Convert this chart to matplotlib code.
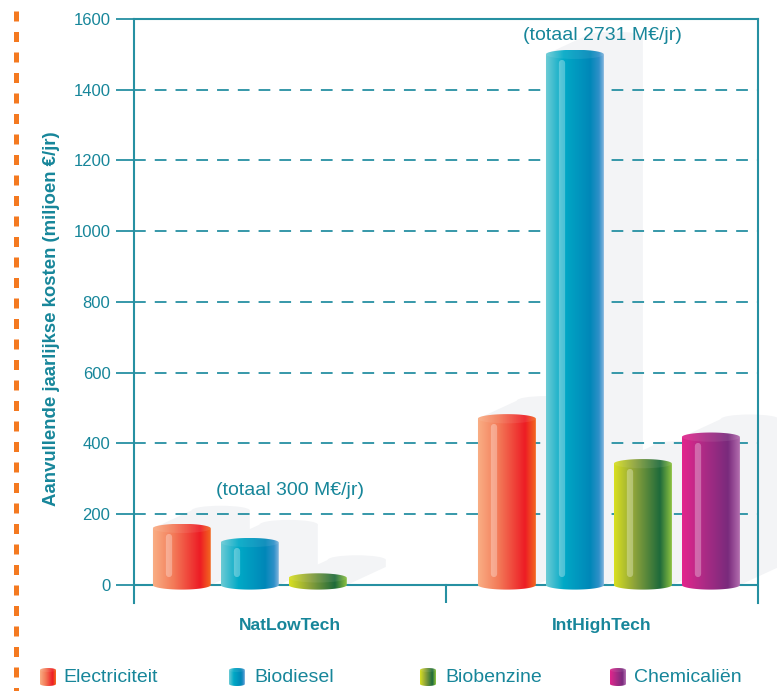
import numpy as np
import matplotlib.pyplot as plt
from matplotlib.colors import LinearSegmentedColormap
from matplotlib.patches import Ellipse, PathPatch, Polygon
from matplotlib.path import Path

categories = ['NatLowTech', 'IntHighTech']
series = ['Electriciteit', 'Biodiesel', 'Biobenzine', 'Chemicaliën']
electriciteit = [160, 470]
biodiesel = [120, 1500]
biobenzine = [20, 343]
chemicalien = [0, 418]
totals = [300, 2731]
yticks = [0, 200, 400, 600, 800, 1000, 1200, 1400, 1600]

values = [electriciteit, biodiesel, biobenzine, chemicalien]

TEAL = '#17869A'
LINE = '#2690A2'
SHADOW = '#F3F4F6'
ORANGE = '#F47920'

# colour stops across each cylinder, left to right
gradients = [
    [(0.0, '#F9AE84'), (0.35, '#F37A58'), (0.8, '#ED1C24'), (1.0, '#F3701F')],
    [(0.0, '#6DCBD5'), (0.3, '#00A9C6'), (0.75, '#0087B8'), (0.9, '#2F90C8'), (1.0, '#93BCE2')],
    [(0.0, '#D9E021'), (0.35, '#8CA23A'), (0.78, '#1E6A3B'), (1.0, '#96C940')],
    [(0.0, '#E3248C'), (0.35, '#B02B86'), (0.78, '#792A7C'), (1.0, '#B874B3')],
]

plt.rcParams['font.family'] = ['Liberation Sans', 'DejaVu Sans']


def cylinder(ax, xc, w, y0, y1, eh, stops, z=3):
    """Gradient filled cylinder from y0 to y1 with elliptical ends."""
    xl, xr = xc - w / 2, xc + w / 2
    t = np.linspace(np.pi, 2 * np.pi, 60)
    bottom = np.column_stack([xc + w / 2 * np.cos(t), y0 + eh * np.sin(t)])
    t2 = np.linspace(0, np.pi, 60)
    top = np.column_stack([xc + w / 2 * np.cos(t2), y1 + eh * np.sin(t2)])
    verts = np.vstack([bottom, top, bottom[:1]])
    patch = PathPatch(Path(verts, closed=True), transform=ax.transData,
                      fc='none', ec='none')
    ax.add_patch(patch)
    cmap = LinearSegmentedColormap.from_list('cyl', stops)
    grad = cmap(np.linspace(0, 1, 256))[None, :, :]
    im = ax.imshow(grad, extent=(xl, xr, y0 - eh, y1 + eh), aspect='auto',
                   interpolation='bilinear', zorder=z)
    im.set_clip_path(patch)
    # top face slightly lighter
    ax.add_patch(Ellipse((xc, y1), w, 2 * eh, fc='white', ec='none',
                         alpha=0.08, zorder=z + 0.1))


fig = plt.figure(figsize=(7.77, 6.91), dpi=100)

# full-figure layer in pixel units for the side rule and the legend
bg = fig.add_axes([0, 0, 1, 1], zorder=-1)
bg.set_xlim(0, 777)
bg.set_ylim(0, 691)
bg.axis('off')

ax = fig.add_axes([134 / 777, 1 - 603 / 691, 624 / 777, 584 / 691])
ymin = -50.9
ax.set_xlim(-0.5, 1.5)
ax.set_ylim(ymin, 1600)

bar_w = 0.186
spacing = 0.218
group_shift = [-0.02, 0.022]
eh = 13          # half height of the ellipses, data units
sh_dx, sh_dy = 0.125, 51

for ci in range(len(categories)):
    for si, vals in enumerate(values):
        v = vals[ci]
        if v <= 0:
            continue
        xc = ci + group_shift[ci] + (si - 1.5) * spacing
        xl, xr = xc - bar_w / 2, xc + bar_w / 2
        # faint cast shadow behind the bar
        shadow = Polygon([(xl, 0), (xr, 0), (xr + sh_dx, sh_dy),
                          (xr + sh_dx, v + sh_dy), (xl + sh_dx, v + sh_dy),
                          (xl, v)], closed=True, fc=SHADOW, ec='none',
                         zorder=1, clip_on=False)
        ax.add_patch(shadow)
        ax.add_patch(Ellipse((xc + sh_dx, v + sh_dy), bar_w, 2 * eh,
                             fc=SHADOW, ec='none', zorder=1, clip_on=False))

        cylinder(ax, xc, bar_w, 0, v, eh, gradients[si])

        # glossy highlight stripe
        xs = xl + 0.28 * bar_w
        top_s, bot_s = v - 24, 32
        if top_s <= bot_s:
            top_s, bot_s = v * 0.55 + 1, v * 0.55 - 1
        ax.plot([xs, xs], [bot_s, top_s], color='white', alpha=0.3, lw=4.5,
                solid_capstyle='round', zorder=3.5)

# dashed grid
for y in yticks[1:-1]:
    ax.axhline(y, color=LINE, lw=1.3, linestyle=(0, (6.5, 5)), zorder=2)
ax.axhline(0, color=LINE, lw=1.5, zorder=2.5)
ax.plot([0.5, 0.5], [ymin, 0], color=LINE, lw=1.5, zorder=2.5)

for side in ['left', 'right', 'top']:
    ax.spines[side].set_color(LINE)
    ax.spines[side].set_linewidth(1.5)
ax.spines['bottom'].set_visible(False)

ax.set_yticks(yticks)
ax.set_yticklabels([str(y) for y in yticks])
ax.tick_params(axis='y', length=13, width=1.3, color=LINE, labelsize=12,
               labelcolor=TEAL, pad=4)
ax.set_xticks(range(len(categories)))
ax.set_xticklabels(categories, fontweight='bold')
ax.tick_params(axis='x', length=0, labelsize=12.5, labelcolor=TEAL, pad=11)

ax.set_ylabel('Aanvullende jaarlijkse kosten (miljoen €/jr)',
              fontweight='bold', fontsize=13.4, color=TEAL)
ax.yaxis.set_label_coords(-0.118, 0.486)

total_y = [268, 1552]
for ci, tot in enumerate(totals):
    ax.text(ci, total_y[ci], f'(totaal {tot} M€/jr)', ha='center', va='center',
            fontsize=14, color=TEAL, zorder=6)

# orange dashed rule at the left edge
bg.plot([16, 16], [680, -10], color=ORANGE, lw=3.6, linestyle=(0, (2, 2.1)),
        solid_capstyle='butt', dash_capstyle='butt')

# legend
icon_x = [48, 237, 428, 618]
text_x = [63, 254, 445, 634]
for si, name in enumerate(series):
    cylinder(bg, icon_x[si], 16, 7, 21, 2, gradients[si])
    bg.plot([icon_x[si] - 3.5] * 2, [9, 19], color='white', alpha=0.3,
            lw=2.2, solid_capstyle='round')
    bg.text(text_x[si], 14, name, fontsize=14, color=TEAL, va='center',
            ha='left')
bg.set_xlim(0, 777)
bg.set_ylim(0, 691)

fig.savefig('out.png', dpi=100)
